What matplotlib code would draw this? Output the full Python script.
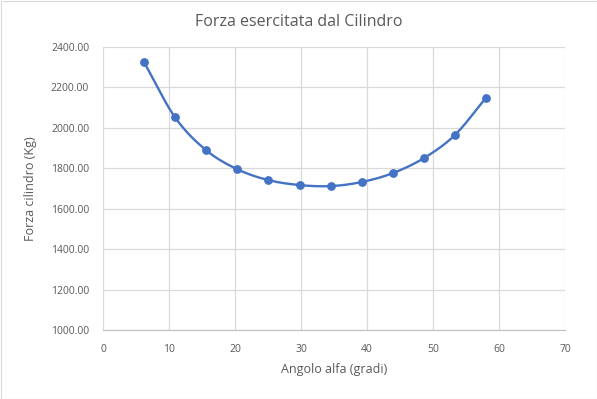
import numpy as np
import matplotlib
matplotlib.use("Agg")
import matplotlib.pyplot as plt

angle = [6.2, 10.9, 15.6, 20.3, 25.0, 29.8, 34.5, 39.2, 43.9, 48.6, 53.3, 58.0]
force = [2326, 2053, 1890, 1796, 1742, 1717, 1712, 1732, 1776, 1850, 1964, 2148]

x_ticks = [0, 10, 20, 30, 40, 50, 60, 70]
y_ticks = [1000, 1200, 1400, 1600, 1800, 2000, 2200, 2400]

def catmull_rom(xs, ys, n=30):
    P = np.column_stack([xs, ys]).astype(float)
    P = np.vstack([2 * P[0] - P[1], P, 2 * P[-1] - P[-2]])
    out = []
    for i in range(1, len(P) - 2):
        p0, p1, p2, p3 = P[i - 1], P[i], P[i + 1], P[i + 2]
        t = np.linspace(0, 1, n, endpoint=False)[:, None]
        c1 = p1 + (p2 - p0) / 6
        c2 = p2 - (p3 - p1) / 6
        pts = ((1 - t) ** 3) * p1 + 3 * ((1 - t) ** 2) * t * c1 + 3 * (1 - t) * t ** 2 * c2 + t ** 3 * p2
        out.append(pts)
    out.append(P[-2][None, :])
    out = np.vstack(out)
    return out[:, 0], out[:, 1]

plt.rcParams['font.family'] = ['Open Sans', 'DejaVu Sans']
txt = '#595959'

fig = plt.figure(figsize=(5.97, 3.99), dpi=100)
ax = fig.add_axes([103 / 597, 1 - 330 / 399, (565 - 103) / 597, (330 - 47) / 399])

sx, sy = catmull_rom(angle, force)
ax.plot(sx, sy, color='#4472C4', lw=1.7, zorder=3)
ax.plot(angle, force, 'o', color='#4472C4', ms=5.3, zorder=4)

ax.set_xlim(0, 70)
ax.set_ylim(1000, 2400)
ax.set_xticks(x_ticks)
ax.set_yticks(y_ticks)
ax.set_yticklabels([f"{v:.2f}" for v in y_ticks])
ax.grid(True, color='#d9d9d9', lw=0.9)
ax.set_axisbelow(True)
for s in ['top', 'right', 'left']:
    ax.spines[s].set_visible(False)
ax.spines['bottom'].set_color('#bfbfbf')
ax.tick_params(axis='y', length=0, labelsize=7.5, labelcolor=txt, pad=10)
ax.tick_params(axis='x', length=0, labelsize=7.5, labelcolor=txt, pad=10)
ax.set_xlabel('Angolo alfa (gradi)', fontsize=9, color=txt, labelpad=6)
ax.set_ylabel('Forza cilindro (Kg)', fontsize=9, color=txt, labelpad=10)
fig.text(0.5, 1 - 22 / 399, 'Forza esercitata dal Cilindro', ha='center', va='center', fontsize=11.5, color=txt)

fig.patches.append(plt.Rectangle((0.5 / 597, 0.5 / 399), 1 - 1 / 597, 1 - 1 / 399, transform=fig.transFigure,
                                 fill=False, edgecolor='#d9d9d9', lw=0.8))
fig.savefig('out.png', dpi=100)
